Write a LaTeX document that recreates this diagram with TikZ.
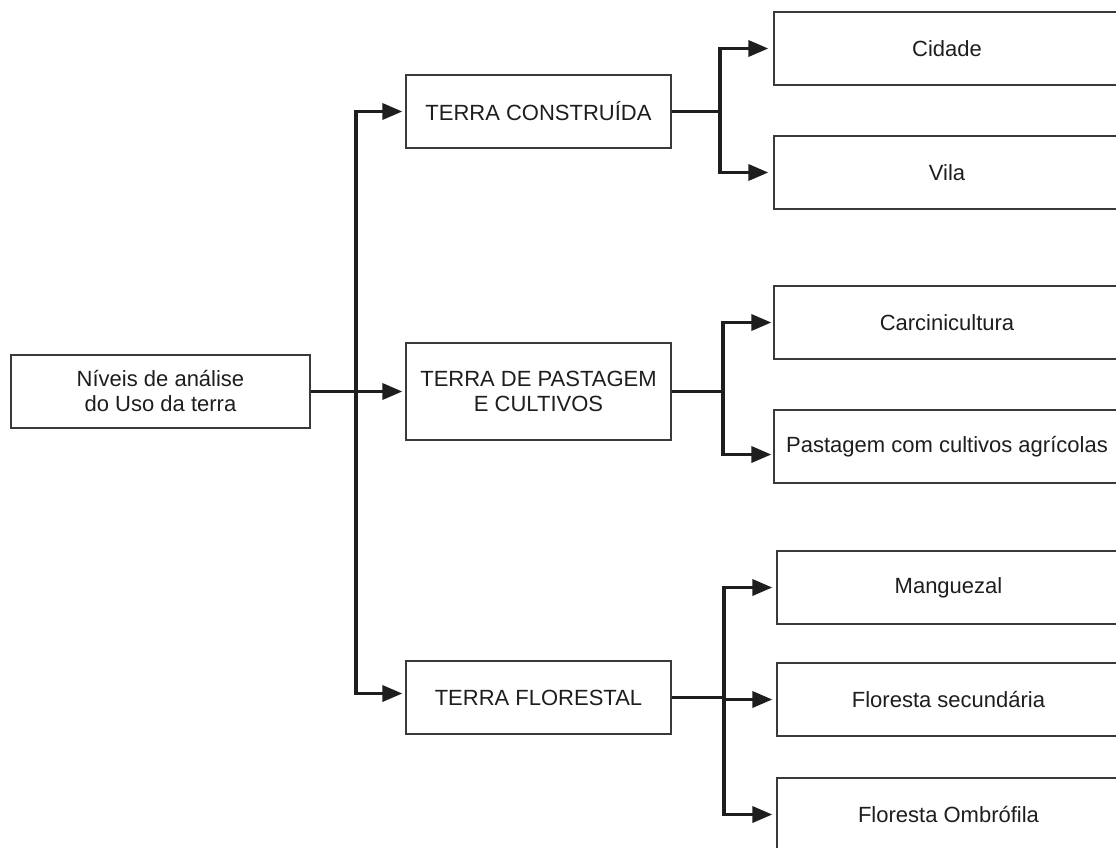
\documentclass[tikz,border=0pt]{standalone}
\usepackage{fontspec}
\setmainfont{Liberation Sans}
\usetikzlibrary{arrows.meta,calc}

\definecolor{ink}{HTML}{1E1E1E}
\definecolor{frame}{HTML}{3A3A3A}

\tikzset{
  box/.style={draw=frame, line width=1.3pt, fill=white, inner sep=0pt,
    text=ink, align=center, font=\fontsize{22}{25}\selectfont},
  conn/.style={draw=ink, line width=3.5pt, line join=miter},
  arr/.style={conn, -{Triangle[length=20pt,width=16pt]}, shorten >=3pt},
}

\begin{document}
\begin{tikzpicture}[x=1pt, y=-1pt]
  \useasboundingbox (0,0) rectangle (1116,848);
  \fill[white] (0,0) rectangle (1116,848);
  \clip (0,0) rectangle (1116,848);

  % root
  \node[box, minimum width=299pt, minimum height=73pt] (root) at (160.5,391.5)
    {Níveis de análise\\do Uso da terra};

  % first level
  \node[box, minimum width=265pt, minimum height=73pt] (tc) at (538.5,111.5)
    {TERRA CONSTRUÍDA};
  \node[box, minimum width=265pt, minimum height=97pt] (tp) at (538.5,391.5)
    {TERRA DE PASTAGEM\\E CULTIVOS};
  \node[box, minimum width=265pt, minimum height=73pt] (tf) at (538.5,697.5)
    {TERRA FLORESTAL};

  % second level
  \node[box, minimum width=346pt, minimum height=73pt] (cid) at (947,48.5) {Cidade};
  \node[box, minimum width=346pt, minimum height=73pt] (vila) at (947,172.5) {Vila};
  \node[box, minimum width=346pt, minimum height=73pt] (carc) at (947,322.5) {Carcinicultura};
  \node[box, minimum width=346pt, minimum height=73pt] (past) at (947,446.5)
    {Pastagem com cultivos agrícolas};
  \node[box, minimum width=343pt, minimum height=73pt] (mang) at (948.5,587.5) {Manguezal};
  \node[box, minimum width=343pt, minimum height=73pt] (fsec) at (948.5,699.5) {Floresta secundária};
  \node[box, minimum width=343pt, minimum height=73pt] (fomb) at (948.5,814.5) {Floresta Ombrófila};

  % vertical bus positions
  \coordinate (trunk) at (356,0);
  \coordinate (bc) at (720,0);
  \coordinate (bp) at (723,0);
  \coordinate (bf) at (724,0);

  % root to first level
  \draw[arr] (root.east) -- (tp.west);
  \draw[arr] (root.east -| trunk) |- (tc.west);
  \draw[arr] (root.east -| trunk) |- ([yshift=4pt]tf.west);

  % TERRA CONSTRUIDA branch
  \draw[conn] (tc.east) -- (tc.east -| bc);
  \draw[arr, shorten >=5pt] (tc.east -| bc) |- (cid.west);
  \draw[arr, shorten >=5pt] (tc.east -| bc) |- (vila.west);

  % TERRA DE PASTAGEM branch
  \draw[conn] (tp.east) -- (tp.east -| bp);
  \draw[arr, shorten >=2pt] (tp.east -| bp) |- (carc.west);
  \draw[arr, shorten >=2pt] (tp.east -| bp) |- ([yshift=-8pt]past.west);

  % TERRA FLORESTAL branch
  \draw[conn] (tf.east) -- (tf.east -| bf);
  \draw[arr, shorten >=4pt] (tf.east -| bf) |- (mang.west);
  \draw[arr, shorten >=4pt] (fsec.west -| bf) -- (fsec.west);
  \draw[arr, shorten >=4pt] (tf.east -| bf) |- (fomb.west);
\end{tikzpicture}
\end{document}
